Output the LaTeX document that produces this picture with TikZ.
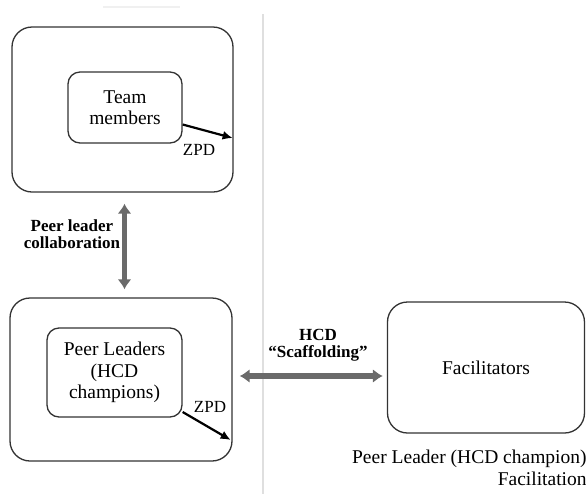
\documentclass[tikz,border=0pt]{standalone}
\usepackage{fontspec}
\setmainfont{Liberation Serif}
\usepackage{tikz}
\usetikzlibrary{arrows.meta, calc, positioning}

\tikzset{
    outerbox/.style={draw=black!80, line width=0.65pt, rounded corners=10pt},
    innerbox/.style={draw=black!80, line width=0.65pt, rounded corners=6pt, align=center,
        font=\fontsize{9.75}{10.75}\selectfont},
    zpdarrow/.style={-{Latex[length=5pt,width=4.5pt]}, line width=1.1pt, black},
    dblarrow/.style={{Latex[length=5pt,width=7pt]}-{Latex[length=5pt,width=7pt]},
        line width=2.6pt, draw=gray!70!black!90},
    lbl/.style={font=\bfseries\fontsize{8.5}{8.5}\selectfont, align=center, inner sep=0pt},
    zpd/.style={font=\fontsize{8.5}{8.5}\selectfont, inner sep=0pt}
}

\begin{document}
\begin{tikzpicture}[x=0.5pt, y=-0.5pt]
                        \useasboundingbox (0,0) rectangle (586,494);
                        % faint page rules
                        \draw[gray!25, line width=1pt] (263,14) -- (263,494);
                        \draw[gray!12, line width=1pt] (103,7) -- (180,7);

                        % boxes
                        \node[outerbox, minimum width=110.5pt, minimum height=82.5pt] (outerA) at (122.5, 109.5) {};
                        \node[innerbox, minimum width=57pt, minimum height=35.5pt] (team) at (125, 107.5) {Team\\members};
                        \node[outerbox, minimum width=111pt, minimum height=81.5pt] (outerB) at (121, 379.5) {};
                        \node[innerbox, minimum width=67.5pt, minimum height=44.5pt] (leaders) at (114.5, 372.5) {Peer Leaders\\(HCD\\champions)};
                        \node[innerbox, rounded corners=10pt, minimum width=98.5pt, minimum height=65.5pt] (facil) at (486, 367.5) {Facilitators};

                        % ZPD arrows
                        \coordinate (zpdA) at ($(outerA.east)+(-1,28.5)$);
                        \coordinate (zpdB) at ($(outerB.east)+(-2,60.5)$);
                        \draw[zpdarrow] ($(team.east)+(0,17)$) -- (zpdA);
                        \draw[zpdarrow] ($(leaders.east)+(0,39.5)$) -- (zpdB);
                        \node[zpd] (zpd1) at (199, 150) {ZPD};
                        \node[zpd] (zpd2) at (210, 407) {ZPD};

                        % links
                        \draw[dblarrow, shorten <=5.5pt, shorten >=4pt]
                        ([xshift=1pt]outerA.south) -- ([xshift=1pt]outerA.south |- outerB.north);
                        \draw[dblarrow, shorten <=3.5pt, shorten >=2pt]
                        ([yshift=1.75pt]outerB.east) -- ([yshift=1.75pt]outerB.east -| facil.west);

                        \node[lbl] (collab) at (72, 234) {Peer leader\\collaboration};
                        \node[lbl] (scaff) at (318, 345) {HCD\\``Scaffolding''};
                        \node[anchor=north east, align=right, inner sep=0pt,
                            font=\fontsize{9.75}{11}\selectfont] (caption) at (587, 450)
                            {Peer Leader (HCD champion)\\Facilitation};
                    \end{tikzpicture}
\end{document}
